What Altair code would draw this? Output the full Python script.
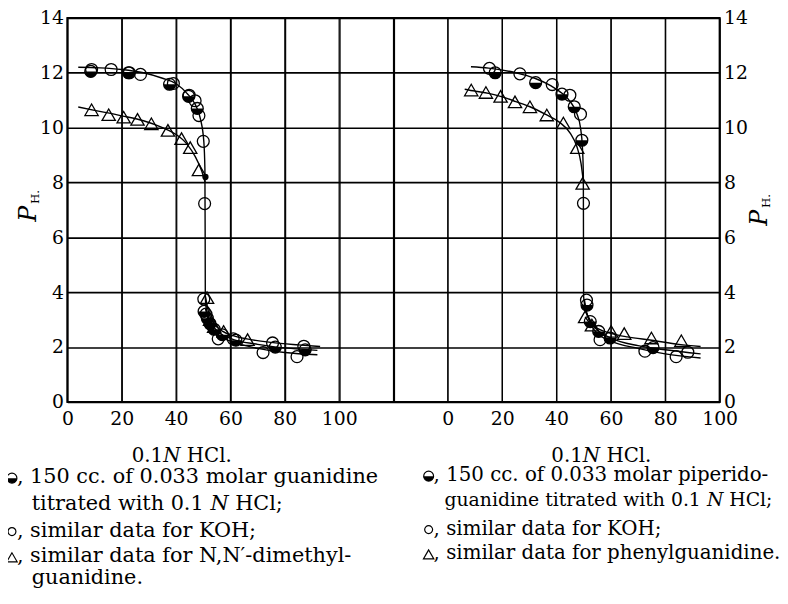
import altair as alt
import pandas as pd

# ---------------- data ----------------
# Left panel: guanidine (half-filled), KOH (open circle), N,N'-dimethylguanidine (triangle)
left_guan_x = [8.6, 22.5, 37.6, 44.6, 47.8, 50.3, 51.5, 52.5, 54.0, 57.0, 62.0, 76.5, 87.5]
left_guan_y = [12.05, 12.0, 11.58, 11.14, 10.7, 3.3, 3.05, 2.85, 2.65, 2.45, 2.25, 2.0, 1.9]
left_dot_x = [50.8]
left_dot_y = [8.2]
left_koh_x = [8.9, 16.1, 22.8, 26.9, 39.0, 44.8, 47.0, 48.4, 50.0, 50.5, 50.2, 51.0, 55.5, 61.0, 72.0, 75.5, 84.5, 87.0]
left_koh_y = [12.12, 12.12, 12.0, 11.94, 11.61, 11.18, 10.98, 10.44, 9.5, 7.23, 3.75, 3.2, 2.3, 2.3, 1.8, 2.15, 1.65, 2.03]
left_dim_x = [8.9, 15.2, 20.7, 25.8, 30.9, 37.0, 42.0, 45.2, 48.4, 51.4, 52.5, 54.0, 57.5, 66.3]
left_dim_y = [10.65, 10.47, 10.38, 10.3, 10.14, 9.9, 9.6, 9.27, 8.46, 3.8, 3.0, 2.75, 2.57, 2.27]

# Left panel fitted curves (traced)
left_c1_x = [4, 12, 20, 28, 35, 40, 44, 47, 49, 50.2, 50.6, 50.7, 50.75, 51.2, 52.5, 55, 60, 70, 80, 92]
left_c1_y = [12.2, 12.18, 12.12, 12.0, 11.8, 11.6, 11.25, 10.85, 10.3, 9.5, 8.5, 6.0, 3.8, 3.35, 2.95, 2.6, 2.32, 2.1, 1.97, 1.88]
left_c2_x = [4, 10, 20, 28, 35, 40, 44, 47, 49.5, 50.7]
left_c2_y = [10.75, 10.63, 10.43, 10.25, 10.0, 9.75, 9.4, 8.95, 8.4, 8.0]
left_c3_x = [50.8, 52, 54, 57, 61, 66, 75, 85, 93]
left_c3_y = [3.85, 3.25, 2.85, 2.58, 2.42, 2.3, 2.17, 2.08, 2.02]
left_c4_x = [50.8, 52, 54, 57, 62, 70, 80, 92]
left_c4_y = [3.4, 2.95, 2.6, 2.35, 2.15, 1.95, 1.8, 1.72]

# Right panel: piperidoguanidine (half-filled), KOH (open circle), phenylguanidine (triangle)
right_pip_x = [17.4, 32.3, 42.0, 46.5, 49.3, 51.2, 52.4, 55.5, 59.7, 75.5]
right_pip_y = [12.0, 11.64, 11.22, 10.76, 9.54, 3.53, 2.93, 2.57, 2.33, 1.98]
right_koh_x = [15.3, 26.5, 38.4, 44.9, 48.8, 49.9, 51.0, 56.0, 72.5, 84.0, 88.3]
right_koh_y = [12.16, 11.96, 11.57, 11.18, 10.49, 7.24, 3.71, 2.27, 1.85, 1.65, 1.81]
right_phe_x = [8.6, 14.0, 19.4, 24.7, 30.2, 36.4, 42.5, 47.6, 49.6, 50.5, 53.0, 60.1, 64.9, 74.9, 85.9]
right_phe_y = [11.37, 11.28, 11.14, 10.94, 10.76, 10.46, 10.17, 9.27, 7.97, 3.1, 2.8, 2.57, 2.49, 2.33, 2.23]

right_c1_x = [8.5, 15, 25, 32, 38, 42, 45, 47.5, 48.8, 49.5, 49.85, 49.9, 49.95, 50.5, 52, 55, 60, 70, 80, 93]
right_c1_y = [12.22, 12.17, 12.0, 11.8, 11.52, 11.25, 10.95, 10.5, 10.0, 9.3, 8.3, 6.0, 3.85, 3.45, 3.0, 2.62, 2.33, 2.05, 1.9, 1.75]
right_c2_x = [6.2, 10, 15, 20, 25, 30, 36, 41, 45, 47.5, 49, 49.9]
right_c2_y = [11.4, 11.33, 11.25, 11.12, 10.95, 10.77, 10.48, 10.2, 9.8, 9.3, 8.7, 8.0]
right_c3_x = [50.5, 52, 55, 60, 66, 75, 85, 93]
right_c3_y = [3.1, 2.9, 2.68, 2.5, 2.37, 2.25, 2.1, 2.02]
right_c4_x = [50.2, 51, 52.5, 55, 60, 70, 80, 93]
right_c4_y = [3.75, 3.3, 2.85, 2.5, 2.22, 1.95, 1.75, 1.6]

tick_values_x = [0, 20, 40, 60, 80, 100, 120, 140, 160, 180, 200, 220, 240]
tick_values_y = [0, 2, 4, 6, 8, 10, 12, 14]

RIGHT_SHIFT = 140  # right panel's 0 sits at 140 on the shared grid

# ---------------- build tables ----------------
def pts(xs, ys, shift=0):
    return pd.DataFrame({"x": [v + shift for v in xs], "y": ys})

half_df = pd.concat([pts(left_guan_x, left_guan_y), pts(right_pip_x, right_pip_y, RIGHT_SHIFT)])
open_df = pd.concat([pts(left_koh_x, left_koh_y), pts(right_koh_x, right_koh_y, RIGHT_SHIFT)])
tri_df = pd.concat([pts(left_dim_x, left_dim_y), pts(right_phe_x, right_phe_y, RIGHT_SHIFT)])
dot_df = pts(left_dot_x, left_dot_y)
vgrid_df = pd.DataFrame({"x": tick_values_x})

curves = []
for name, cx, cy, sh in [
    ("L1", left_c1_x, left_c1_y, 0), ("L2", left_c2_x, left_c2_y, 0),
    ("L3", left_c3_x, left_c3_y, 0), ("L4", left_c4_x, left_c4_y, 0),
    ("R1", right_c1_x, right_c1_y, RIGHT_SHIFT), ("R2", right_c2_x, right_c2_y, RIGHT_SHIFT),
    ("R3", right_c3_x, right_c3_y, RIGHT_SHIFT), ("R4", right_c4_x, right_c4_y, RIGHT_SHIFT)]:
    d = pts(cx, cy, sh)
    d["c"] = name
    d["i"] = range(len(d))
    curves.append(d)
curve_df = pd.concat(curves)

# ---------------- scales / axes ----------------
FONT = "DejaVu Serif"
xs = alt.Scale(domain=[0, 240], nice=False, zero=False)
ys = alt.Scale(domain=[0, 14], nice=False)

x_axis = alt.Axis(
    values=tick_values_x,
    labelExpr="datum.value <= 100 ? '' + datum.value : (datum.value >= 140 ? '' + (datum.value - 140) : '')",
    grid=True, gridColor="black", gridWidth=1.2, gridOpacity=1,
    ticks=False, domain=False, labelFont=FONT, labelFontSize=19, labelColor="black",
    labelPadding=8, labelFlush=False, labelOverlap=False, title=None)
y_axis_left = alt.Axis(
    values=tick_values_y, grid=True, gridColor="black", gridWidth=1.7, gridOpacity=1,
    ticks=False, domain=False, labelFont=FONT, labelFontSize=19, labelColor="black",
    labelPadding=4, title=None, orient="left")
y_axis_right = alt.Axis(
    values=tick_values_y, grid=False, ticks=False, domain=False, labelFont=FONT,
    labelFontSize=19, labelColor="black", labelPadding=4, title=None, orient="right")

X = alt.X("x:Q", scale=xs, axis=x_axis)

vgrid = alt.Chart(vgrid_df).mark_rule(color="black", strokeWidth=1.2).encode(x=X)

line_layer = alt.Chart(curve_df).mark_line(
    interpolate="monotone", color="black", strokeWidth=1.4).encode(
    x=X, y=alt.Y("y:Q", scale=ys, axis=y_axis_left),
    detail="c:N", order="i:Q")

open_layer = alt.Chart(open_df).mark_point(
    shape="circle", filled=False, color="black", strokeWidth=1.3, size=144, opacity=1).encode(
    x=X, y=alt.Y("y:Q", scale=ys, axis=y_axis_right))

HALF = "M-1,0A1,1,0,0,0,1,0Z"
half_outline = alt.Chart(half_df).mark_point(
    shape="circle", filled=False, color="black", strokeWidth=1.3, size=144, opacity=1).encode(
    x=X, y=alt.Y("y:Q", scale=ys, axis=None))
half_fill = alt.Chart(half_df).mark_point(
    shape=HALF, filled=True, color="black", size=144, opacity=1).encode(
    x=X, y=alt.Y("y:Q", scale=ys, axis=None))
tri_layer = alt.Chart(tri_df).mark_point(
    shape="triangle-up", filled=False, color="black", strokeWidth=1.3, size=180, opacity=1).encode(
    x=X, y=alt.Y("y:Q", scale=ys, axis=None))
dot_layer = alt.Chart(dot_df).mark_point(
    shape="circle", filled=True, color="black", size=40, opacity=1).encode(
    x=X, y=alt.Y("y:Q", scale=ys, axis=None))

# ---------------- text (titles and caption) ----------------
dummy = pd.DataFrame({"d": [0]})

# approximate DejaVu Serif advance widths (em) to chain mixed-style segments
W = {" ": .318, ".": .318, ",": .318, ";": .337, "-": .338, "′": .30,
     "a": .596, "c": .56, "d": .64, "e": .592, "f": .352, "g": .64, "h": .644, "i": .32,
     "l": .32, "m": .948, "n": .644, "o": .602, "p": .64, "r": .478, "s": .513, "t": .402,
     "u": .644, "w": .856, "y": .565, "H": .872, "C": .734, "N": .872, "K": .775, "O": .82}

def width(s, size):
    return sum(W.get(ch, .636) for ch in s) * size

def text_layer(x, y, txt, size, style="normal", align="left", angle=0):
    return alt.Chart(dummy).mark_text(
        text=txt, font=FONT, fontSize=size, fontStyle=style, color="black",
        align=align, baseline="middle", angle=angle).encode(
        x=alt.value(x), y=alt.value(y))

def seg_line(x, y, segs, size):
    out = []
    for txt, style in segs:
        lead = len(txt) - len(txt.lstrip(" "))
        x += width(" " * lead, size)
        body = txt.strip(" ")
        out.append(text_layer(x, y, body, size, style))
        x += width(txt.lstrip(" "), size)
    return out

texts = []
# axis titles "0.1N HCl."
texts += seg_line(65, 443, [("0.1", "normal"), ("N", "italic"), (" HCl.", "normal")], 20)
texts += seg_line(489, 443, [("0.1", "normal"), ("N", "italic"), (" HCl.", "normal")], 20)
# y titles  P_H.
texts.append(text_layer(-39, 198, "P", 24, "italic", "center", 270))
texts.append(text_layer(-33, 181, "H.", 12, "normal", "center", 270))
texts.append(text_layer(700, 202, "P", 24, "italic", "center", 270))
texts.append(text_layer(706, 185, "H.", 12, "normal", "center", 270))

# caption, left block
LS = 21
texts += seg_line(-51, 464, [(", 150 cc. of 0.033 molar guanidine", "normal")], LS)
texts += seg_line(-36, 491, [("titrated with 0.1 ", "normal"), ("N", "italic"), (" HCl;", "normal")], LS)
texts += seg_line(-51, 518, [(", similar data for KOH;", "normal")], LS)
texts += seg_line(-51, 544, [(", similar data for N,N′-dimethyl-", "normal")], LS)
texts += seg_line(-36, 566, [("guanidine.", "normal")], LS)
# caption, right block
RS = 20
texts += seg_line(370, 462, [(", 150 cc. of 0.033 molar piperido-", "normal")], RS)
texts += seg_line(381, 487, [("guanidine titrated with 0.1 ", "normal"), ("N", "italic"), (" HCl;", "normal")], 19)
texts += seg_line(370, 516, [(", similar data for KOH;", "normal")], RS)
texts += seg_line(370, 541, [(", similar data for phenylguanidine.", "normal")], RS)

# caption symbols
def sym(x, y, shape, filled, size):
    return alt.Chart(dummy).mark_point(
        shape=shape, filled=filled, color="black", strokeWidth=1.2, size=size, opacity=1).encode(
        x=alt.value(x), y=alt.value(y))

syms = []
for sx, (y1, y3, y4) in [(-56, (464, 518, 544)), (365, (462, 516, 541))]:
    syms.append(sym(sx, y1 + 1, "circle", False, 100))
    syms.append(sym(sx, y1 + 1, HALF, True, 100))
    syms.append(sym(sx, y3 + 1, "circle", False, 64))
    syms.append(sym(sx, y4 + 1, "triangle-up", False, 110))

chart = alt.layer(
    vgrid, line_layer, open_layer, half_outline, half_fill, tri_layer, dot_layer, *texts, *syms
).resolve_axis(y="independent").properties(
    width=659, height=388,
    autosize=alt.AutoSizeParams(type="none"),
    padding={"left": 60, "top": 7, "right": 61, "bottom": 185},
).configure(
    background="white",
    view=alt.ViewConfig(stroke="black", strokeWidth=2),
)

chart.save("out.html", embed_options={"renderer": "svg", "actions": False})
